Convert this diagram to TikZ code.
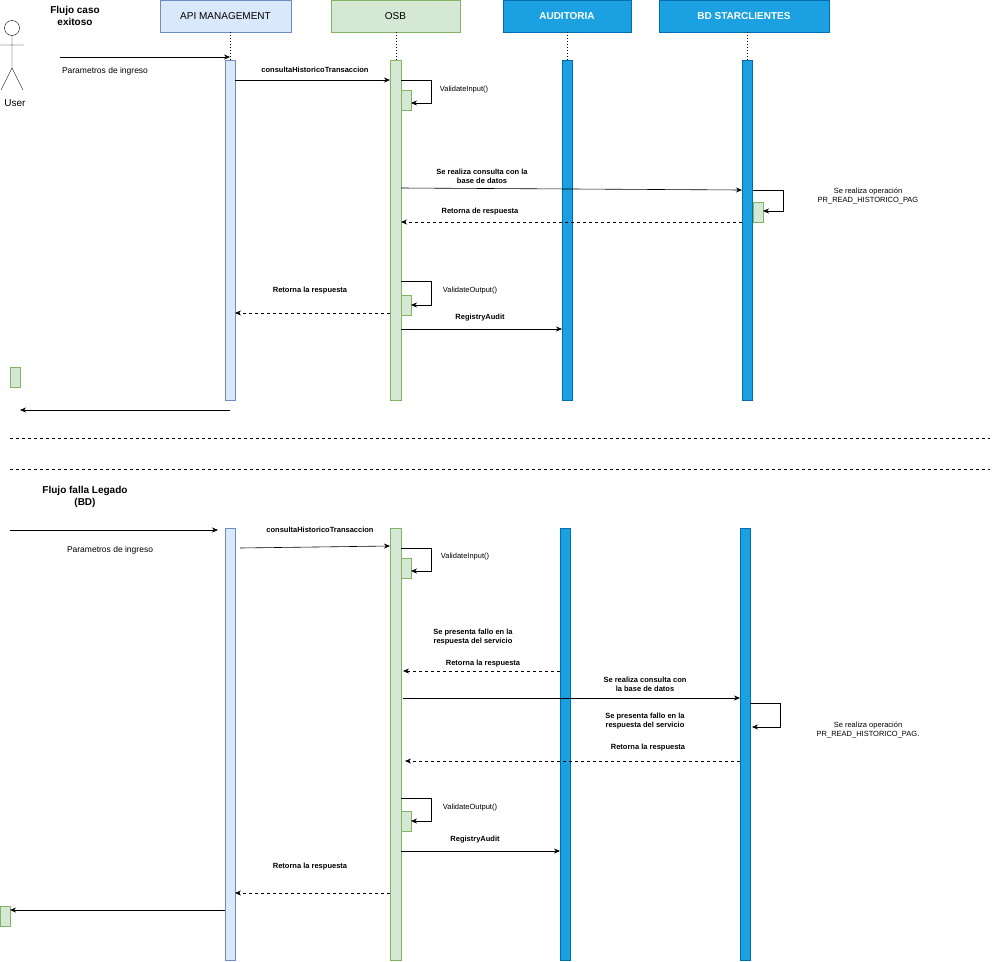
\documentclass[tikz,border=0pt]{standalone}
\usepackage{fontspec}
\setmainfont{Liberation Sans}
\usetikzlibrary{arrows.meta}
\definecolor{bluef}{HTML}{DAE8FC}\definecolor{blued}{HTML}{6C8EBF}
\definecolor{greenf}{HTML}{D5E8D4}\definecolor{greend}{HTML}{82B366}
\definecolor{aud}{HTML}{1BA1E2}\definecolor{audd}{HTML}{006EAF}
\begin{document}
\begin{tikzpicture}[x=1pt,y=-1pt,
 hdr/.style={draw,minimum width=#1,minimum height=32pt,inner sep=0pt,font=\fontsize{10}{11}\selectfont},
 apiS/.style={draw=blued,fill=bluef},
 osbS/.style={draw=greend,fill=greenf},
 audS/.style={draw=audd,fill=aud,text=white,font=\fontsize{10}{11}\selectfont\bfseries},
 msg/.style={-{Stealth[length=6pt,width=5pt]},line width=0.6pt},
 ret/.style={msg,dashed},
 lbl/.style={font=\fontsize{7.5}{9}\selectfont\bfseries,align=center,inner sep=1pt},
 nlbl/.style={font=\fontsize{7.5}{9}\selectfont,align=center,inner sep=1pt},
 life/.style={dotted,line width=1pt}]
\useasboundingbox (0,0) rectangle (992,961);
% headers
\node[hdr=131pt,apiS] (hapi) at (225.5,16) {API MANAGEMENT};
\node[hdr=129pt,osbS] (hosb) at (395.5,16) {OSB};
\node[hdr=128pt,audS] (haud) at (567,16) {AUDITORIA};
\node[hdr=170pt,audS] (hbd) at (744,16) {BD STARCLIENTES};
% actor
\draw (12,28) circle (7.5);
\draw (12,35.5)--(12,68) (0,45)--(24,45) (12,68)--(1,90) (12,68)--(23,90);
\node[font=\fontsize{10}{11}\selectfont] (user) at (15,103) {User};
\node[font=\fontsize{10}{12}\selectfont\bfseries,align=center] (t1) at (75,16) {Flujo caso\\exitoso};
% lifelines
\draw[life] (230,32)--(230,60); \draw[life] (396,32)--(396,60);
\draw[life] (567,32)--(567,60); \draw[life] (747,32)--(747,60);
% top activations
\draw[apiS] (225,60) rectangle (235,400);
\draw[osbS] (390,60) rectangle (401,400);
\draw[draw=audd,fill=aud] (562,60) rectangle (572,400);
\draw[draw=audd,fill=aud] (742,60) rectangle (752,400);
\draw[osbS] (401,90) rectangle (411,110);
\draw[osbS] (753,202) rectangle (763,222);
\draw[osbS] (401,295) rectangle (411,315);
\draw[osbS] (10,367) rectangle (20,387);
% top messages
\coordinate (a1) at (60,57); \coordinate (a2) at (230,57);
\draw[msg] (a1)--(a2);
\node[nlbl,font=\fontsize{8.5}{9}\selectfont] at (105,71) {Parametros de ingreso};
\coordinate (b1) at (235,80); \coordinate (b2) at (390,80);
\draw[msg] (b1)--(b2); \node[lbl] at (315,70) {consultaHistoricoTransaccion};
\draw[msg] (401,80)--(431,80)--(431,103)--(411,103);
\node[nlbl] at (464,90) {ValidateInput()};
\draw[msg] (401,188)--(742,190);
\node[lbl] at (482,176) {Se realiza consulta con la\\base de datos};
\draw[msg] (753,190)--(783,190)--(783,211)--(763,211);
\node[nlbl] at (868,196) {Se realiza operación\\PR\_READ\_HISTORICO\_PAG};
\draw[ret] (742,222)--(401,222); \node[lbl] at (480,212) {Retorna de respuesta};
\draw[msg] (401,281)--(431,281)--(431,305)--(411,305);
\node[nlbl] at (470,291) {ValidateOutput()};
\draw[ret] (390,313)--(235,313); \node[lbl] at (310,291) {Retorna la respuesta};
\draw[msg] (401,329)--(562,329); \node[lbl] at (480,318) {RegistryAudit};
\draw[msg] (230,410)--(20,410);
% separators
\draw[dashed] (10,438)--(990,438); \draw[dashed] (10,469)--(990,469);
% bottom
\node[font=\fontsize{10}{12}\selectfont\bfseries,align=center] (t2) at (85,497) {Flujo falla Legado\\(BD)};
\draw[apiS] (225,528) rectangle (235,960);
\draw[osbS] (390,528) rectangle (401,960);
\draw[draw=audd,fill=aud] (560,528) rectangle (570,960);
\draw[draw=audd,fill=aud] (740,528) rectangle (750,960);
\draw[osbS] (401,558) rectangle (411,578);
\draw[osbS] (401,811) rectangle (411,831);
\draw[osbS] (0,906) rectangle (10,926);
\draw[msg] (10,530)--(218,530);
\node[nlbl,font=\fontsize{8.5}{9}\selectfont] at (110,550) {Parametros de ingreso};
\draw[msg] (240,548)--(390,546); \node[lbl] at (320,530) {consultaHistoricoTransaccion};
\draw[msg] (401,548)--(431,548)--(431,571)--(411,571);
\node[nlbl] at (465,557) {ValidateInput()};
\node[lbl] at (473,637) {Se presenta fallo en la\\respuesta del servicio};
\draw[ret] (560,671)--(403,671); \node[lbl] at (483,664) {Retorna la respuesta};
\draw[msg] (403,698)--(740,698);
\node[lbl] at (645,684) {Se realiza consulta con\\la base de datos};
\draw[msg] (750,703)--(780,703)--(780,727)--(752,727);
\node[nlbl] at (868,730) {Se realiza operación\\PR\_READ\_HISTORICO\_PAG.};
\node[lbl] at (645,721) {Se presenta fallo en la\\respuesta del servicio};
\draw[ret] (740,761)--(405,761); \node[lbl] at (648,748) {Retorna la respuesta};
\draw[msg] (401,798)--(431,798)--(431,821)--(411,821);
\node[nlbl] at (470,808) {ValidateOutput()};
\draw[msg] (401,851)--(560,851); \node[lbl] at (475,840) {RegistryAudit};
\draw[ret] (390,893)--(235,893); \node[lbl] at (310,867) {Retorna la respuesta};
\draw[msg] (225,910)--(10,910);
\end{tikzpicture}
\end{document}
